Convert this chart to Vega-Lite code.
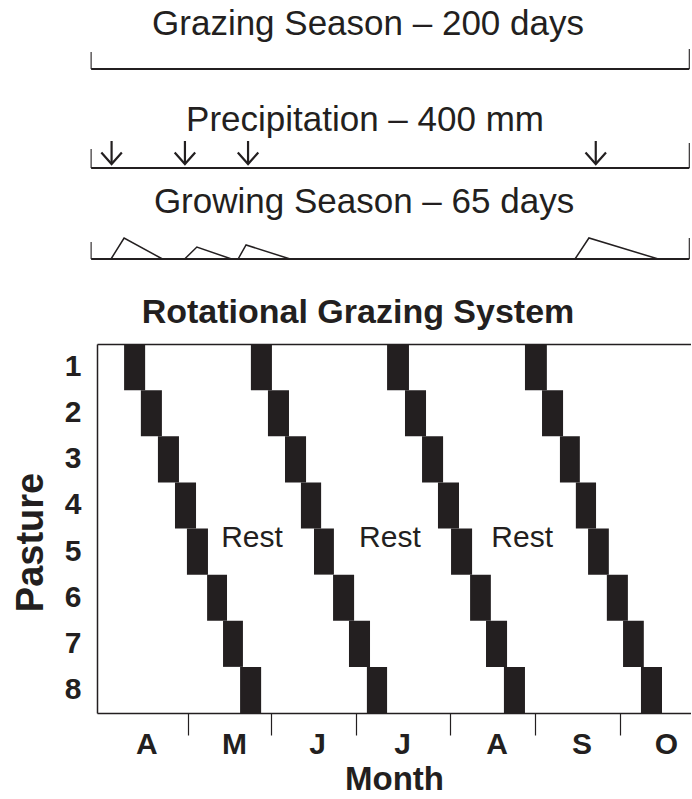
{
  "$schema": "https://vega.github.io/schema/vega-lite/v6.json",
  "autosize": {"type": "pad"},
  "padding": {"left": 12, "top": 7, "right": 0, "bottom": 0},
  "background": "white",
  "config": {
    "font": "Liberation Sans",
    "view": {"stroke": null},
    "title": {"font": "Liberation Sans", "color": "#231f20"},
    "axis": {"labelFont": "Liberation Sans", "titleFont": "Liberation Sans", "labelColor": "#231f20", "titleColor": "#231f20", "grid": false},
    "text": {"font": "Liberation Sans"}
  },
  "datasets": {
    "timeline": [
      {"track": "grazing", "part": "line", "x": -3.2, "x2": 207.2, "y": 0, "y2": 0},
      {"track": "grazing", "part": "end", "x": -3.2, "x2": -3.2, "y": 0, "y2": 0.85},
      {"track": "grazing", "part": "end", "x": 207.2, "x2": 207.2, "y": 0, "y2": 1},
      {"track": "precip", "part": "line", "x": -3.2, "x2": 207.2, "y": 0, "y2": 0},
      {"track": "precip", "part": "end", "x": -3.2, "x2": -3.2, "y": 0, "y2": 0.76},
      {"track": "precip", "part": "end", "x": 207.2, "x2": 207.2, "y": 0, "y2": 1},
      {"track": "growing", "part": "line", "x": -3.2, "x2": 207.2, "y": 0, "y2": 0},
      {"track": "growing", "part": "end", "x": -3.2, "x2": -3.2, "y": 0, "y2": 0.81},
      {"track": "growing", "part": "end", "x": 207.2, "x2": 207.2, "y": 0, "y2": 1}
    ],
    "rain": [{"day": 4.0}, {"day": 29.8}, {"day": 52.0}, {"day": 174.3}],
    "growth": [
      {"tri": 1, "step": 1, "day": 3.8, "growth": 0},
      {"tri": 1, "step": 2, "day": 8.4, "growth": 1.0},
      {"tri": 1, "step": 3, "day": 21.9, "growth": 0},
      {"tri": 2, "step": 1, "day": 29.7, "growth": 0},
      {"tri": 2, "step": 2, "day": 34.0, "growth": 0.57},
      {"tri": 2, "step": 3, "day": 46.2, "growth": 0},
      {"tri": 3, "step": 1, "day": 48.5, "growth": 0},
      {"tri": 3, "step": 2, "day": 51.3, "growth": 0.67},
      {"tri": 3, "step": 3, "day": 66.8, "growth": 0},
      {"tri": 4, "step": 1, "day": 167.0, "growth": 0},
      {"tri": 4, "step": 2, "day": 171.9, "growth": 1.0},
      {"tri": 4, "step": 3, "day": 196.3, "growth": 0}
    ],
    "grazing": [
      {"cycle": 1, "pasture": 1, "start": 8.4, "end": 15.8},
      {"cycle": 1, "pasture": 2, "start": 14.3, "end": 21.7},
      {"cycle": 1, "pasture": 3, "start": 20.3, "end": 27.7},
      {"cycle": 1, "pasture": 4, "start": 26.3, "end": 33.7},
      {"cycle": 1, "pasture": 5, "start": 30.5, "end": 37.9},
      {"cycle": 1, "pasture": 6, "start": 37.6, "end": 44.6},
      {"cycle": 1, "pasture": 7, "start": 43.2, "end": 50.2},
      {"cycle": 1, "pasture": 8, "start": 49.2, "end": 56.6},
      {"cycle": 2, "pasture": 1, "start": 53.0, "end": 60.4},
      {"cycle": 2, "pasture": 2, "start": 59.0, "end": 66.4},
      {"cycle": 2, "pasture": 3, "start": 65.0, "end": 72.4},
      {"cycle": 2, "pasture": 4, "start": 70.6, "end": 77.7},
      {"cycle": 2, "pasture": 5, "start": 75.2, "end": 82.2},
      {"cycle": 2, "pasture": 6, "start": 81.9, "end": 89.3},
      {"cycle": 2, "pasture": 7, "start": 87.5, "end": 94.9},
      {"cycle": 2, "pasture": 8, "start": 93.8, "end": 100.9},
      {"cycle": 3, "pasture": 1, "start": 100.9, "end": 108.6},
      {"cycle": 3, "pasture": 2, "start": 107.2, "end": 114.6},
      {"cycle": 3, "pasture": 3, "start": 113.2, "end": 120.6},
      {"cycle": 3, "pasture": 4, "start": 118.8, "end": 126.2},
      {"cycle": 3, "pasture": 5, "start": 123.4, "end": 130.8},
      {"cycle": 3, "pasture": 6, "start": 130.1, "end": 137.4},
      {"cycle": 3, "pasture": 7, "start": 135.7, "end": 143.1},
      {"cycle": 3, "pasture": 8, "start": 142.0, "end": 149.4},
      {"cycle": 4, "pasture": 1, "start": 149.4, "end": 157.1},
      {"cycle": 4, "pasture": 2, "start": 155.4, "end": 162.8},
      {"cycle": 4, "pasture": 3, "start": 161.7, "end": 168.7},
      {"cycle": 4, "pasture": 4, "start": 167.3, "end": 174.4},
      {"cycle": 4, "pasture": 5, "start": 171.6, "end": 178.9},
      {"cycle": 4, "pasture": 6, "start": 178.2, "end": 185.6},
      {"cycle": 4, "pasture": 7, "start": 183.9, "end": 191.2},
      {"cycle": 4, "pasture": 8, "start": 190.2, "end": 197.6}
    ],
    "rest": [
      {"label": "Rest", "day": 53.4, "pasture": 5},
      {"label": "Rest", "day": 101.9, "pasture": 5},
      {"label": "Rest", "day": 148.4, "pasture": 5}
    ]
  },
  "spacing": 70,
  "bounds": "flush",
  "vconcat": [
    {
      "width": 594,
      "height": 20,
      "title": {"text": "Grazing Season – 200 days", "fontSize": 35, "fontWeight": "normal", "anchor": "middle", "frame": "group", "dx": -26, "offset": -22, "baseline": "alphabetic"},
      "data": {"name": "timeline"},
      "transform": [{"filter": "datum.track === 'grazing'"}],
      "encoding": {
        "x": {"field": "x", "type": "quantitative", "scale": {"domain": [-1.13, 207.8], "nice": false, "zero": false}, "axis": null},
        "x2": {"field": "x2"},
        "y": {"field": "y", "type": "quantitative", "scale": {"domain": [0, 1], "nice": false, "zero": false}, "axis": null},
        "y2": {"field": "y2"}
      },
      "layer": [
        {"transform": [{"filter": "datum.part === 'line'"}], "mark": {"type": "rule", "strokeWidth": 1.8, "color": "#231f20"}},
        {"transform": [{"filter": "datum.part === 'end'"}], "mark": {"type": "rule", "strokeWidth": 1.1, "color": "#231f20"}}
      ]
    },
    {
      "width": 594,
      "height": 29,
      "title": {"text": "Precipitation – 400 mm", "fontSize": 35, "fontWeight": "normal", "anchor": "middle", "frame": "group", "dx": -29, "offset": -27, "baseline": "alphabetic"},
      "layer": [
        {
          "data": {"name": "timeline"},
          "transform": [{"filter": "datum.track === 'precip' && datum.part === 'line'"}],
          "mark": {"type": "rule", "strokeWidth": 1.8, "color": "#231f20"},
          "encoding": {
            "x": {"field": "x", "type": "quantitative", "scale": {"domain": [-1.13, 207.8], "nice": false, "zero": false}, "axis": null},
            "x2": {"field": "x2"},
            "y": {"field": "y", "type": "quantitative", "scale": {"domain": [0, 1.16], "nice": false, "zero": false}, "axis": null},
            "y2": {"field": "y2"}
          }
        },
        {
          "data": {"name": "timeline"},
          "transform": [{"filter": "datum.track === 'precip' && datum.part === 'end'"}],
          "mark": {"type": "rule", "strokeWidth": 1.1, "color": "#231f20"},
          "encoding": {
            "x": {"field": "x", "type": "quantitative", "scale": {"domain": [-1.13, 207.8], "nice": false, "zero": false}, "axis": null},
            "x2": {"field": "x2"},
            "y": {"field": "y", "type": "quantitative", "scale": {"domain": [0, 1.16], "nice": false, "zero": false}, "axis": null},
            "y2": {"field": "y2"}
          }
        },
        {
          "data": {"name": "rain"},
          "mark": {"type": "rule", "strokeWidth": 2.2, "color": "#231f20"},
          "encoding": {
            "x": {"field": "day", "type": "quantitative", "scale": {"domain": [-1.13, 207.8], "nice": false, "zero": false}, "axis": null},
            "y": {"datum": 1.08, "type": "quantitative", "scale": {"domain": [0, 1.16], "nice": false, "zero": false}, "axis": null},
            "y2": {"datum": 0.17}
          }
        },
        {
          "data": {"name": "rain"},
          "mark": {"type": "point", "shape": "M-1,-1.12L0,0L1,-1.12", "size": 420, "filled": false, "strokeWidth": 2.2, "color": "#231f20", "opacity": 1},
          "encoding": {
            "x": {"field": "day", "type": "quantitative", "scale": {"domain": [-1.13, 207.8], "nice": false, "zero": false}, "axis": null},
            "y": {"datum": 0.16, "type": "quantitative", "scale": {"domain": [0, 1.16], "nice": false, "zero": false}, "axis": null}
          }
        }
      ]
    },
    {
      "width": 594,
      "height": 36,
      "title": {"text": "Growing Season – 65 days", "fontSize": 35, "fontWeight": "normal", "anchor": "middle", "frame": "group", "dx": -30, "offset": -13, "baseline": "alphabetic"},
      "layer": [
        {
          "data": {"name": "timeline"},
          "transform": [{"filter": "datum.track === 'growing' && datum.part === 'line'"}],
          "mark": {"type": "rule", "strokeWidth": 1.8, "color": "#231f20"},
          "encoding": {
            "x": {"field": "x", "type": "quantitative", "scale": {"domain": [-1.13, 207.8], "nice": false, "zero": false}, "axis": null},
            "x2": {"field": "x2"},
            "y": {"field": "y", "type": "quantitative", "scale": {"domain": [-0.714, 1], "nice": false, "zero": false}, "axis": null},
            "y2": {"field": "y2"}
          }
        },
        {
          "data": {"name": "timeline"},
          "transform": [{"filter": "datum.track === 'growing' && datum.part === 'end'"}],
          "mark": {"type": "rule", "strokeWidth": 1.1, "color": "#231f20"},
          "encoding": {
            "x": {"field": "x", "type": "quantitative", "scale": {"domain": [-1.13, 207.8], "nice": false, "zero": false}, "axis": null},
            "x2": {"field": "x2"},
            "y": {"field": "y", "type": "quantitative", "scale": {"domain": [-0.714, 1], "nice": false, "zero": false}, "axis": null},
            "y2": {"field": "y2"}
          }
        },
        {
          "data": {"name": "growth"},
          "mark": {"type": "line", "strokeWidth": 1.5, "color": "#231f20"},
          "encoding": {
            "x": {"field": "day", "type": "quantitative", "scale": {"domain": [-1.13, 207.8], "nice": false, "zero": false}, "axis": null},
            "y": {"field": "growth", "type": "quantitative", "scale": {"domain": [-0.714, 1], "nice": false, "zero": false}, "axis": null},
            "detail": {"field": "tri", "type": "nominal"},
            "order": {"field": "step", "type": "quantitative"}
          }
        }
      ]
    },
    {
      "width": 594,
      "height": 369,
      "title": {"text": "Rotational Grazing System", "fontSize": 34, "fontWeight": "bold", "anchor": "middle", "frame": "group", "dx": -36, "offset": -13, "baseline": "alphabetic"},
      "resolve": {"axis": {"x": "independent"}},
      "layer": [
        {
          "data": {"name": "grazing"},
          "mark": {"type": "rect", "color": "#231f20"},
          "encoding": {
            "x": {
              "field": "start", "type": "quantitative", "title": "Month",
              "scale": {"domain": [-1.13, 207.8], "nice": false, "zero": false},
              "axis": {
                "values": [0, 30.9, 60.1, 90.0, 123.2, 153.1, 182.8],
                "labelExpr": "datum.value == 0 ? 'A' : datum.value < 40 ? 'M' : datum.value < 70 ? 'J' : datum.value < 100 ? 'J' : datum.value < 130 ? 'A' : datum.value < 160 ? 'S' : 'O'",
                "labelOffset": 46, "labelFlush": false, "labelOverlap": false, "labelBound": false,
                "labelFontSize": 30, "labelFontWeight": "bold", "labelBaseline": "middle", "labelAlign": "center", "labelPadding": 9,
                "tickSize": 22, "tickWidth": 1.2, "tickColor": "#231f20",
                "tickOpacity": {"condition": {"test": "datum.value == 0", "value": 0}, "value": 1},
                "domainColor": "#231f20", "domainWidth": 1.5,
                "titleFontSize": 33, "titleFontWeight": "bold", "titlePadding": 4
              }
            },
            "x2": {"field": "end"},
            "y": {
              "field": "pasture", "type": "ordinal", "title": "Pasture",
              "scale": {"paddingInner": 0, "paddingOuter": 0},
              "axis": {
                "ticks": false, "labelFontSize": 30, "labelFontWeight": "bold", "labelPadding": 16, "labelAngle": 0,
                "domainColor": "#231f20", "domainWidth": 1.5,
                "titleFontSize": 38, "titleFontWeight": "bold", "titlePadding": 14, "titleY": 198
              }
            }
          }
        },
        {
          "data": {"name": "rest"},
          "mark": {"type": "text", "fontSize": 30, "color": "#231f20", "baseline": "middle", "align": "center"},
          "encoding": {
            "x": {
              "field": "day", "type": "quantitative",
              "scale": {"domain": [-1.13, 207.8], "nice": false, "zero": false},
              "axis": {"orient": "top", "domain": true, "ticks": false, "labels": false, "title": null, "domainColor": "#231f20", "domainWidth": 1.5}
            },
            "y": {"field": "pasture", "type": "ordinal", "title": "Pasture", "bandPosition": 0.2},
            "text": {"field": "label"}
          }
        }
      ]
    }
  ]
}
